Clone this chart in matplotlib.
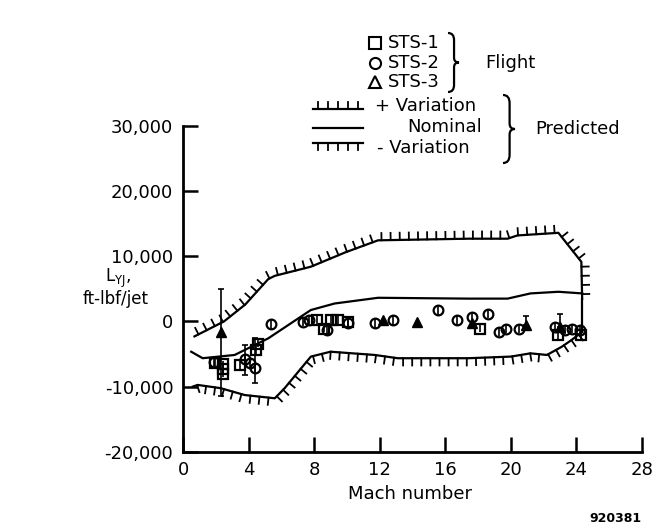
import matplotlib
matplotlib.use("Agg")
import matplotlib.pyplot as plt
import matplotlib.patheffects as pe
from matplotlib.lines import Line2D
from matplotlib.path import Path
from matplotlib.patches import PathPatch

# predicted curves
upper_mach = [0.7, 2.5, 3.8, 5.2, 5.6, 7.8, 9.9, 11.9, 17.4, 19.8, 20.4, 22.9, 24.3, 24.35]
upper_val = [-2300, 0, 2600, 6500, 7000, 8400, 10600, 12450, 12700, 12700, 13200, 13600, 9150, 3500]
edge_mach = [24.35, 24.35]
edge_val = [3500, -1600]
nom_mach = [0.5, 1.2, 3.15, 5.2, 7.8, 9.25, 11.9, 17.4, 19.8, 21.2, 22.9, 24.35]
nom_val = [-4650, -5650, -5150, -2600, 1750, 2750, 3630, 3500, 3500, 4300, 4550, 4300]
lower_mach = [0.6, 0.9, 2.3, 3.76, 5.6, 6.2, 7.8, 9.0, 11.7, 13.1, 17.4, 20.0, 21.2, 22.2, 23.1, 23.7, 24.35]
lower_val = [-10000, -9750, -10250, -11300, -11800, -10250, -5400, -4650, -5150, -5650, -5650,
             -5400, -4900, -5150, -3900, -2860, -1600]

# flight data
sts1_mach = [1.93, 2.44, 2.44, 2.44, 3.45, 4.47, 4.57, 8.2, 8.6, 9.0, 9.45, 10.06, 18.1, 22.9, 24.3]
sts1_val = [-6400, -6600, -7300, -8000, -6700, -4400, -3400, 200, -1100, 200, 200, -50, -1100, -2100, -2100]
sts2_mach = [1.9, 3.76, 4.06, 4.37, 5.38, 7.3, 7.7, 8.8, 10.06, 11.7, 12.8, 15.55, 16.7, 17.6,
             18.6, 19.3, 19.7, 20.5, 22.7, 23.3, 23.7, 24.2]
sts2_val = [-6200, -5700, -6400, -7200, -400, -50, 200, -1300, -300, -300, 200, 1700, 200, 700,
            1200, -1600, -1100, -1100, -800, -1300, -1100, -1300]
sts3_mach = [2.34, 12.2, 14.3, 17.6, 20.9, 23.0]
sts3_val = [-1600, 200, -50, -300, -600, -800]

# scatter bars
bar_mach = [2.34, 3.76, 4.37, 20.9, 23.0]
bar_lo = [-11500, -8200, -9500, -600, -800]
bar_hi = [5000, -3600, -2600, 900, 1200]

xticks = [0, 4, 8, 12, 16, 20, 24, 28]
yticks = [-20000, -10000, 0, 10000, 20000, 30000]
ytick_labels = ["-20,000", "-10,000", "0", "10,000", "20,000", "30,000"]

W, H = 656, 528
fig = plt.figure(figsize=(W / 100, H / 100), dpi=100)
ax = fig.add_axes([183 / W, 1 - 451.7 / H, 459 / W, 325.7 / H])


def fp(x, y):
    # pixel (from top-left) -> figure fraction
    return x / W, 1 - y / H


lw = 1.6
# length is relative to spacing for TickedStroke
up_fx = [pe.withTickedStroke(angle=90, spacing=6.5, length=0.8, linewidth=1.3)]
dn_fx = [pe.withTickedStroke(angle=-90, spacing=6.5, length=0.8, linewidth=1.3)]

ax.plot(upper_mach, upper_val, color="k", lw=lw, path_effects=up_fx)
ax.plot(edge_mach, edge_val, color="k", lw=lw)
ax.plot(nom_mach, nom_val, color="k", lw=lw)
ax.plot(lower_mach, lower_val, color="k", lw=lw, path_effects=dn_fx)

ax.vlines(bar_mach, bar_lo, bar_hi, color="k", lw=1.2)
ax.plot(bar_mach, bar_lo, "k_", ms=5, mew=1.2)
ax.plot(bar_mach, bar_hi, "k_", ms=5, mew=1.2)

ax.errorbar(sts1_mach, sts1_val, yerr=600, fmt="s", ms=6.5, mfc="none", mec="k", mew=1.6,
            ecolor="k", elinewidth=1.2, capsize=0)
ax.errorbar(sts2_mach, sts2_val, yerr=700, fmt="o", ms=7, mfc="none", mec="k", mew=1.6,
            ecolor="k", elinewidth=1.2, capsize=0)
ax.plot(sts3_mach, sts3_val, "^", ms=7, color="k")

ax.set_xlim(0, 28)
ax.set_ylim(-20000, 30000)
ax.set_xticks(xticks)
ax.set_yticks(yticks)
ax.set_yticklabels(ytick_labels)
for s in ["top", "right"]:
    ax.spines[s].set_visible(False)
for s in ["left", "bottom"]:
    ax.spines[s].set_linewidth(2)
ax.tick_params(direction="in", length=11, width=1.8, labelsize=13, pad=7)
ax.patch.set_alpha(0)

fig.text(*fp(410, 494), "Mach number", ha="center", va="center", fontsize=13)
fig.text(*fp(615, 519), "920381", ha="center", va="center", fontsize=9, fontweight="bold")
fig.text(*fp(118, 278), r"L$_{\mathregular{YJ}}$,", ha="center", va="center", fontsize=12)
fig.text(*fp(116, 299), "ft-lbf/jet", ha="center", va="center", fontsize=12)

# legend block
for y, mk, lab in [(43, "s", "STS-1"), (63, "o", "STS-2"), (82, "^", "STS-3")]:
    fig.add_artist(Line2D([fp(375, y)[0]], [fp(375, y)[1]], marker=mk, ms=8, mfc="none",
                          mec="k", mew=1.5, ls="none"))
    fig.text(*fp(388, y), lab, ha="left", va="center", fontsize=13)
fig.text(*fp(485, 63), "Flight", ha="left", va="center", fontsize=13)

sym = [(109, up_fx), (128, None), (143, dn_fx)]
for y, fx in sym:
    x0, yy = fp(313, y)
    x1, _ = fp(363, y)
    ln = Line2D([x0, x1], [yy, yy], color="k", lw=lw)
    if fx:
        ln.set_path_effects(fx)
    fig.add_artist(ln)
fig.text(*fp(375, 106), "+ Variation", ha="left", va="center", fontsize=13)
fig.text(*fp(407, 127), "Nominal", ha="left", va="center", fontsize=13)
fig.text(*fp(377, 148), "- Variation", ha="left", va="center", fontsize=13)
fig.text(*fp(535, 129), "Predicted", ha="left", va="center", fontsize=13)


def brace(x0, ytop, ybot, w):
    ym = (ytop + ybot) / 2
    xm = x0 + w * 0.55
    d = (ybot - ytop) * 0.08
    verts = [(x0, ytop), (xm, ytop), (xm, ytop + d * 1.5),
             (xm, ym - d),
             (xm, ym), (x0 + w, ym),
             (xm, ym), (xm, ym + d),
             (xm, ybot - d * 1.5),
             (xm, ybot), (x0, ybot)]
    codes = [Path.MOVETO, Path.CURVE3, Path.CURVE3, Path.LINETO, Path.CURVE3, Path.CURVE3,
             Path.CURVE3, Path.CURVE3, Path.LINETO, Path.CURVE3, Path.CURVE3]
    verts = [fp(x, y) for x, y in verts]
    fig.add_artist(PathPatch(Path(verts, codes), fill=False, lw=1.6, ec="k",
                             transform=fig.transFigure))


brace(448, 33, 92, 11)
brace(503, 95, 163, 12)

fig.savefig("out.png", dpi=100)
